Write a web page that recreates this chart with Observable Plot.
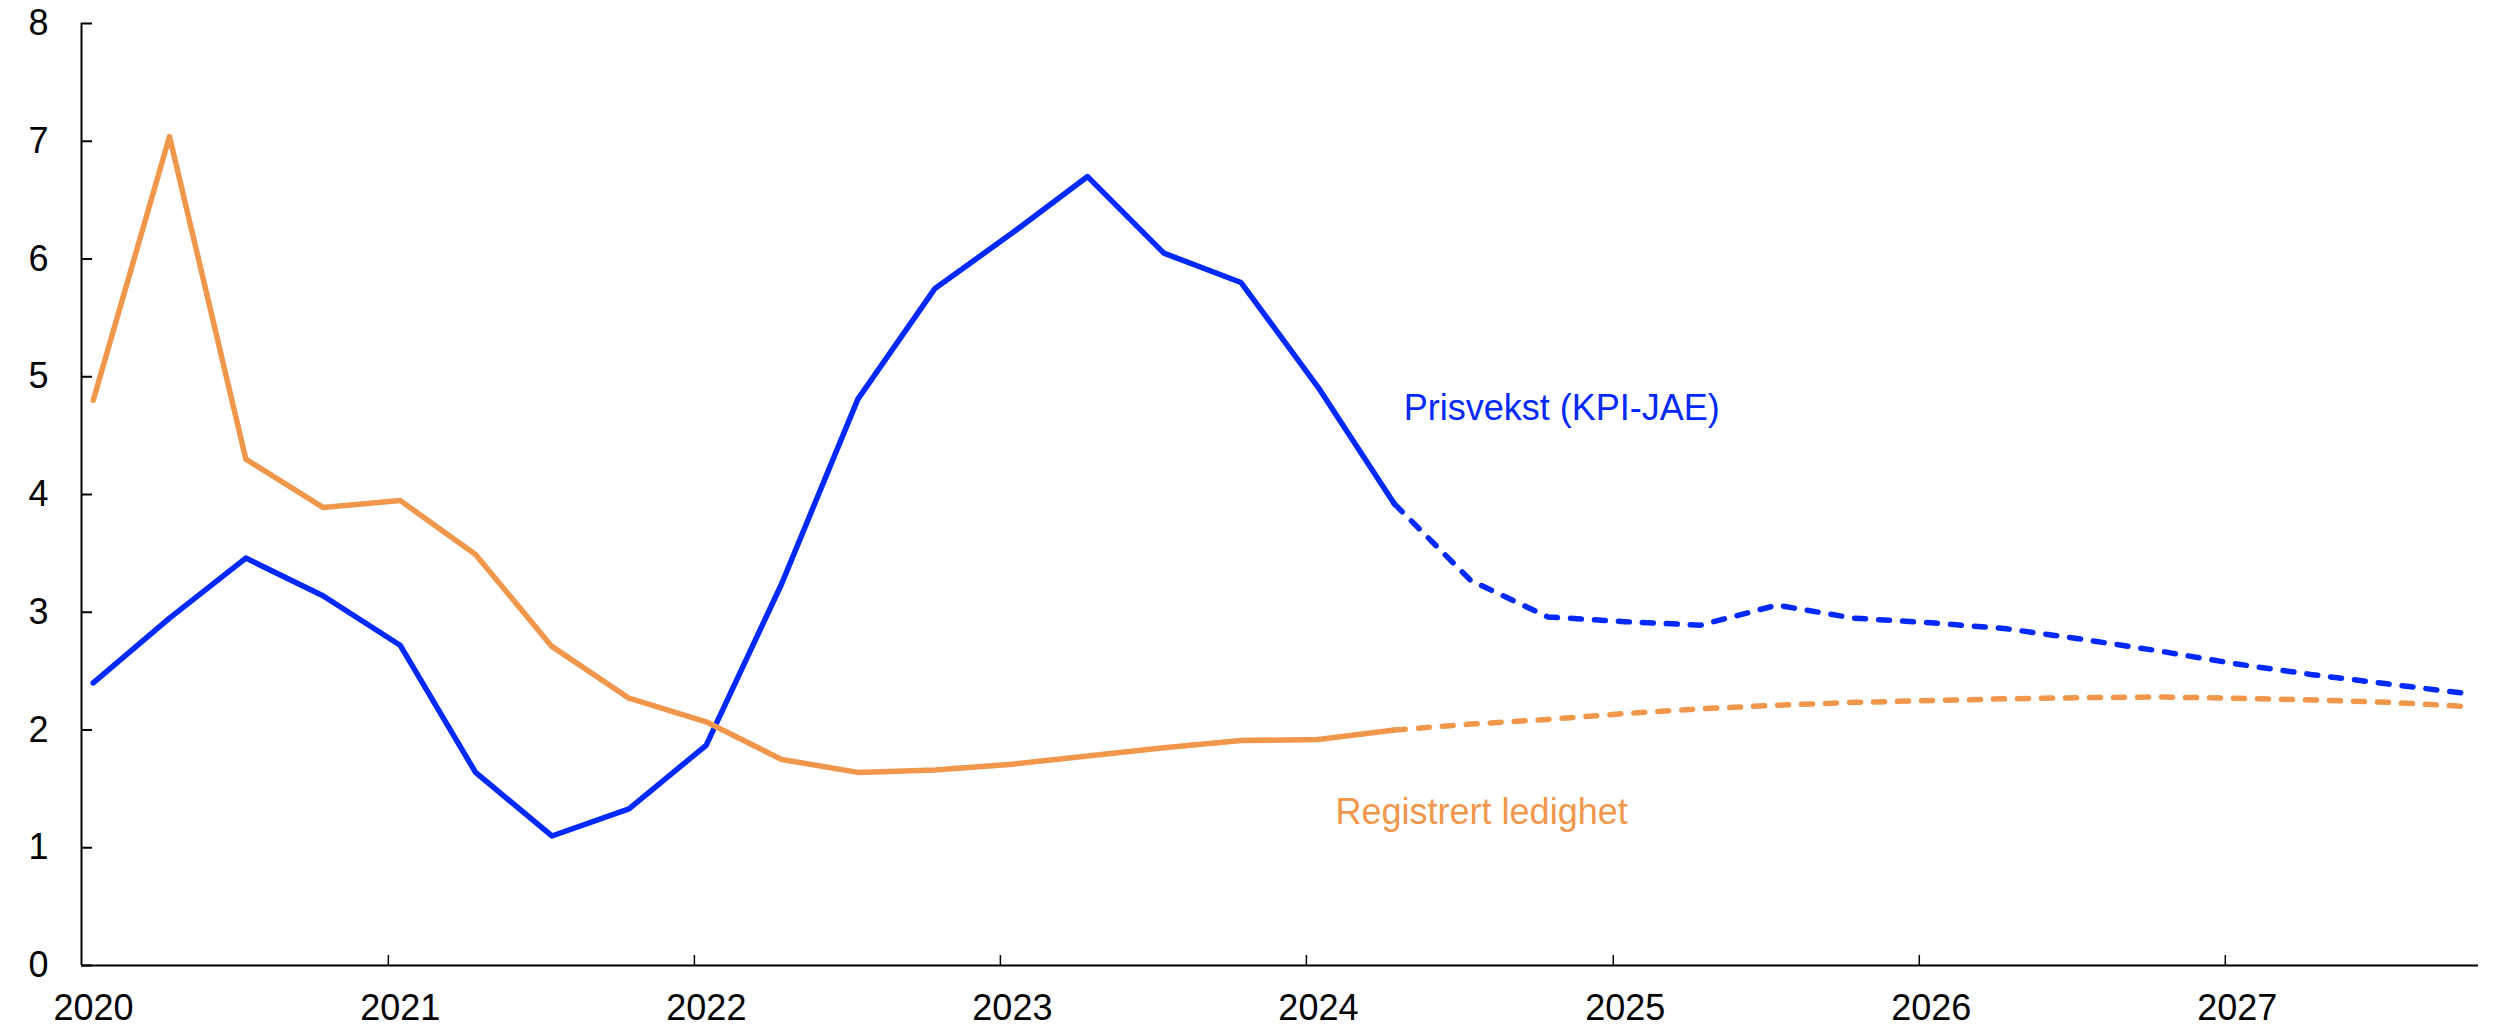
<!DOCTYPE html>
<html>
<head>
<meta charset="utf-8">
<script src="https://cdn.jsdelivr.net/npm/d3@7"></script>
<script src="https://cdn.jsdelivr.net/npm/@observablehq/plot@0.6"></script>
<style>
  html, body { margin: 0; padding: 0; background: #ffffff; }
  #chart svg { display: block; }
</style>
</head>
<body>
<div id="chart"></div>
<script>
// ---- Data ----
const quarters = [
  "2020K1","2020K2","2020K3","2020K4",
  "2021K1","2021K2","2021K3","2021K4",
  "2022K1","2022K2","2022K3","2022K4",
  "2023K1","2023K2","2023K3","2023K4",
  "2024K1","2024K2","2024K3","2024K4",
  "2025K1","2025K2","2025K3","2025K4",
  "2026K1","2026K2","2026K3","2026K4",
  "2027K1","2027K2","2027K3","2027K4"
];
const prisvekst = [
  2.40, 2.95, 3.46, 3.14,
  2.72, 1.64, 1.10, 1.33,
  1.87, 3.24, 4.81, 5.75,
  6.22, 6.70, 6.05, 5.80,
  4.91, 3.92, 3.27, 2.96,
  2.92, 2.89, 3.06, 2.95,
  2.91, 2.86, 2.77, 2.67,
  2.56, 2.47, 2.39, 2.31
];
const ledighet = [
  4.80, 7.04, 4.30, 3.89,
  3.95, 3.49, 2.71, 2.27,
  2.07, 1.75, 1.64, 1.66,
  1.71, 1.78, 1.85, 1.91,
  1.92, 2.00, 2.05, 2.09,
  2.14, 2.18, 2.21, 2.235,
  2.25, 2.265, 2.275, 2.28,
  2.27, 2.255, 2.235, 2.20
];
const lastActualQuarter = "2024K2";
const seriesNames = ["Prisvekst (KPI-JAE)", "Registrert ledighet"];
const seriesColors = ["#0029ff", "#f0974b"];
const yTicks = [0, 1, 2, 3, 4, 5, 6, 7, 8];
const xTickYears = [2020, 2021, 2022, 2023, 2024, 2025, 2026, 2027];
// label anchors (data coordinates: decimal year, value at text baseline)
const labelYears = [2024.317, 2024.095];
const labelValues = [4.63, 1.20];

// ---- Build tables ----
const qDate = q => new Date(Date.UTC(+q.slice(0, 4), (+q.slice(5) - 1) * 3, 15));
const yearDate = y => {
  const yr = Math.floor(y);
  const start = Date.UTC(yr, 0, 1), end = Date.UTC(yr + 1, 0, 1);
  return new Date(start + (y - yr) * (end - start));
};
const lastIdx = quarters.indexOf(lastActualQuarter);
const rows = [];
[prisvekst, ledighet].forEach((vals, s) => {
  vals.forEach((v, i) => rows.push({series: seriesNames[s], date: qDate(quarters[i]), value: v, i}));
});
const actual = rows.filter(d => d.i <= lastIdx);
const forecast = rows.filter(d => d.i >= lastIdx);
const labels = seriesNames.map((name, s) => ({series: name, date: yearDate(labelYears[s]), value: labelValues[s]}));
const xTicks = xTickYears.map(y => new Date(Date.UTC(y, 0, 1)));
const xDomain = [new Date(Date.UTC(2020, 0, 1)), new Date(Date.UTC(2027, 9, 30))];

const font = "'Liberation Sans', Arial, Helvetica, sans-serif";

const chart = Plot.plot({
  width: 2504,
  height: 1028,
  marginLeft: 81,
  marginRight: 26,
  marginTop: 23,
  marginBottom: 63,
  style: {fontFamily: font, fontSize: "36px", color: "#000", background: "#fff"},
  x: {type: "utc", domain: xDomain, label: null},
  y: {domain: [0, 8], label: null},
  color: {domain: seriesNames, range: seriesColors},
  marks: [
    // axis lines
    Plot.ruleX([xDomain[0]], {stroke: "#000", strokeWidth: 2}),
    Plot.ruleY([0], {stroke: "#000", strokeWidth: 2}),
    // y axis: labels and inward ticks
    Plot.axisY({ticks: yTicks, tickSize: 0, tickPadding: 33, fontSize: 36, label: null, tickFormat: d => d}),
    Plot.axisY({ticks: yTicks, tickSize: -11, text: null, label: null, strokeWidth: 2}),
    // x axis: labels and inward ticks
    Plot.axisX({ticks: xTicks, tickSize: 0, tickPadding: 29, dx: 12, fontSize: 36, label: null, tickFormat: d3.utcFormat("%Y")}),
    Plot.axisX({ticks: xTicks.slice(1), tickSize: -10, text: null, label: null, strokeWidth: 1.5}),
    // forecast (dashed)
    Plot.line(forecast, {x: "date", y: "value", z: "series", stroke: "series",
      strokeWidth: 5.5, strokeDasharray: "11,13", strokeLinecap: "round", strokeLinejoin: "round"}),
    // actual (solid)
    Plot.line(actual, {x: "date", y: "value", z: "series", stroke: "series",
      strokeWidth: 5.5, strokeLinecap: "round", strokeLinejoin: "round"}),
    // direct labels
    Plot.text(labels, {x: "date", y: "value", text: "series", fill: "series",
      textAnchor: "start", lineAnchor: "bottom", fontSize: 36})
  ]
});
document.getElementById("chart").appendChild(chart);
</script>
</body>
</html>
